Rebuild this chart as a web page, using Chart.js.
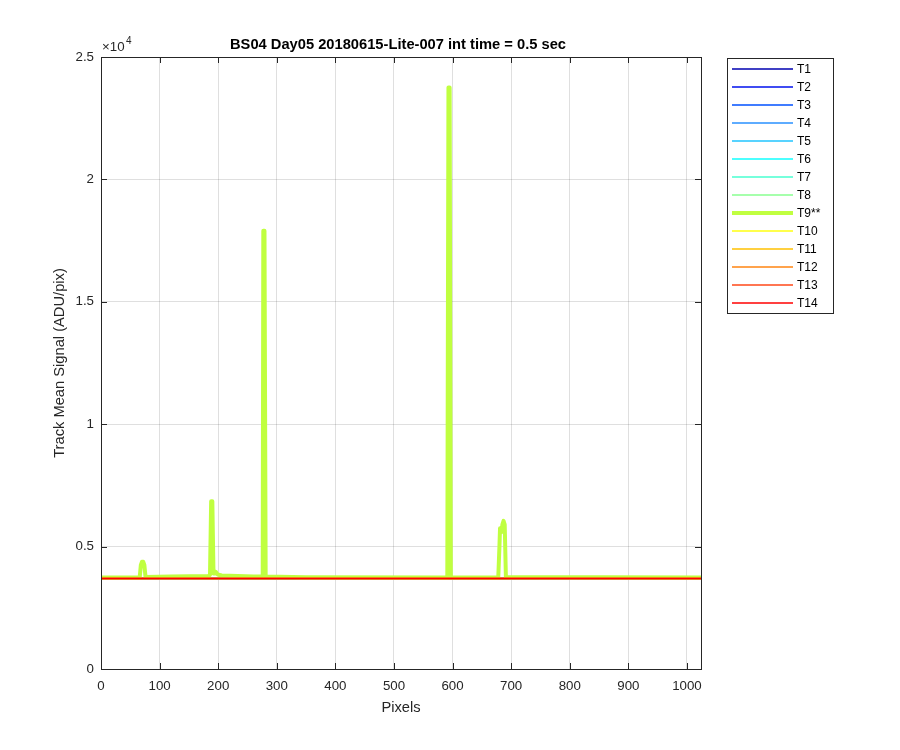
<!DOCTYPE html>
<html>
<head>
<meta charset="utf-8">
<script src="https://cdn.jsdelivr.net/npm/chart.js@4.4.1/dist/chart.umd.min.js"></script>
<style>
  html, body { margin: 0; padding: 0; background: #fff; }
  #wrap { width: 900px; height: 750px; }
</style>
</head>
<body>
<div id="wrap"><canvas id="chart" width="900" height="750"></canvas></div>
<script>
// Track names and colours (jet-like colormap)
const trackNames = ['T1', 'T2', 'T3', 'T4', 'T5', 'T6', 'T7', 'T8', 'T9**', 'T10', 'T11', 'T12', 'T13', 'T14'];
const trackColors = ['#0000b0', '#0010ee', '#0050ff', '#2890ff', '#20c4ff', '#10ffff', '#48ffd0', '#88ff90',
  '#c0ff40', '#ffff10', '#ffc000', '#ff8410', '#ff4818', '#ff0000'];

// Flat baselines of the quiet tracks (ADU/pix)
const baselineX = [0, 1024];
const baselineLevels = [3700, 3700, 3700, 3700, 3700, 3700, 3700, 3700, null, 3700, 3700, 3700, 3700, 3695];

// T9** profile
const t9X = [0, 66, 68, 70, 72, 74, 76, 120, 184, 186, 188, 190, 192, 194, 196, 199, 206, 260, 274, 276, 277,
  279, 281, 350, 589, 591, 593, 595, 597, 660, 678, 680, 681, 683, 684, 685, 687, 689, 691, 1024];
const t9Y = [3740, 3740, 4250, 4380, 4380, 4250, 3760, 3780, 3800, 3850, 6850, 6850, 3900, 3900, 3970, 3860,
  3820, 3780, 3780, 3790, 17900, 17900, 3780, 3745, 3740, 3740, 23750, 23750, 3745, 3740, 3740,
  5000, 5750, 5700, 5600, 5900, 6050, 5900, 3760, 3740];

const xTicks = [0, 100, 200, 300, 400, 500, 600, 700, 800, 900, 1000];
const yTicks = [0, 5000, 10000, 15000, 20000, 25000];

const AX = '#262626';
const FONT = '"Liberation Sans", Arial, sans-serif';

const datasets = trackNames.map((name, i) => {
  let pts;
  if (i === 8) {
    pts = t9X.map((x, k) => ({ x: x, y: t9Y[k] }));
  } else {
    pts = baselineX.map(x => ({ x: x, y: baselineLevels[i] }));
  }
  return {
    label: name,
    data: pts,
    borderColor: trackColors[i],
    backgroundColor: trackColors[i],
    borderWidth: i === 8 ? 4 : 1.5,
    borderJoinStyle: 'round',
    borderCapStyle: 'round',
    pointRadius: 0,
    tension: 0,
    order: trackNames.length - i
  };
});

// Axes box, inward ticks, title, labels and legend (MATLAB style)
const matlabFrame = {
  id: 'matlabFrame',
  afterDraw(chart) {
    const { ctx, chartArea: a, scales } = chart;
    const xs = scales.x, ys = scales.y;
    ctx.save();
    ctx.strokeStyle = AX;
    ctx.lineWidth = 1;
    ctx.beginPath();
    xTicks.forEach(v => {
      const px = Math.round(xs.getPixelForValue(v)) + 0.5;
      ctx.moveTo(px, a.bottom); ctx.lineTo(px, a.bottom - 6);
      ctx.moveTo(px, a.top); ctx.lineTo(px, a.top + 6);
    });
    yTicks.forEach(v => {
      const py = Math.round(ys.getPixelForValue(v)) + 0.5;
      ctx.moveTo(a.left, py); ctx.lineTo(a.left + 6, py);
      ctx.moveTo(a.right, py); ctx.lineTo(a.right - 6, py);
    });
    ctx.stroke();
    ctx.strokeRect(a.left + 0.5, a.top + 0.5, a.right - a.left, a.bottom - a.top);

    ctx.fillStyle = '#000';
    ctx.font = 'bold 14.7px ' + FONT;
    ctx.textAlign = 'center';
    ctx.textBaseline = 'alphabetic';
    ctx.fillText('BS04 Day05 20180615-Lite-007 int time = 0.5 sec', (a.left + a.right) / 2 - 3, 49);

    ctx.fillStyle = AX;
    ctx.font = '13.3px ' + FONT;
    ctx.textAlign = 'left';
    ctx.fillText('\u00d710', a.left + 1, 51);
    ctx.font = '10px ' + FONT;
    ctx.fillText('4', a.left + 25, 44);

    ctx.font = '14.7px ' + FONT;
    ctx.textAlign = 'center';
    ctx.textBaseline = 'middle';
    ctx.fillText('Pixels', (a.left + a.right) / 2, 708);
    ctx.save();
    ctx.translate(60, (a.top + a.bottom) / 2);
    ctx.rotate(-Math.PI / 2);
    ctx.fillText('Track Mean Signal (ADU/pix)', 0, 0);
    ctx.restore();

    // legend
    const lx = 727, ly = 58, lw = 106, rowH = 18;
    ctx.fillStyle = '#fff';
    ctx.fillRect(lx, ly, lw, 255);
    ctx.strokeStyle = AX;
    ctx.strokeRect(lx + 0.5, ly + 0.5, lw, 255);
    ctx.font = '12px ' + FONT;
    ctx.textAlign = 'left';
    ctx.textBaseline = 'middle';
    chart.data.datasets.forEach((ds, i) => {
      const y = ly + 11 + i * rowH;
      ctx.strokeStyle = ds.borderColor;
      ctx.lineWidth = ds.borderWidth;
      ctx.beginPath();
      ctx.moveTo(lx + 5, y); ctx.lineTo(lx + 66, y);
      ctx.stroke();
      ctx.fillStyle = '#000';
      ctx.fillText(ds.label, lx + 70, y + 1);
    });
    ctx.restore();
  }
};

new Chart(document.getElementById('chart'), {
  type: 'line',
  data: { datasets: datasets },
  options: {
    responsive: false,
    animation: false,
    layout: { padding: { top: 57, right: 199, left: 0, bottom: 0 } },
    plugins: { legend: { display: false }, tooltip: { enabled: false }, title: { display: false } },
    scales: {
      x: {
        type: 'linear',
        min: 0,
        max: 1024,
        afterFit: s => { s.height = 81; },
        afterBuildTicks: s => { s.ticks = xTicks.map(v => ({ value: v })); },
        grid: { color: 'rgba(38,38,38,0.15)', drawTicks: false },
        border: { display: false },
        ticks: { color: AX, font: { family: FONT, size: 13.3 }, padding: 9, maxRotation: 0, callback: v => String(v) }
      },
      y: {
        type: 'linear',
        min: 0,
        max: 25000,
        afterFit: s => { s.width = 101; },
        afterBuildTicks: s => { s.ticks = yTicks.map(v => ({ value: v })); },
        grid: { color: 'rgba(38,38,38,0.15)', drawTicks: false },
        border: { display: false },
        ticks: { color: AX, font: { family: FONT, size: 13.3 }, padding: 7, callback: v => String(v / 10000) }
      }
    }
  },
  plugins: [matlabFrame]
});
</script>
</body>
</html>
